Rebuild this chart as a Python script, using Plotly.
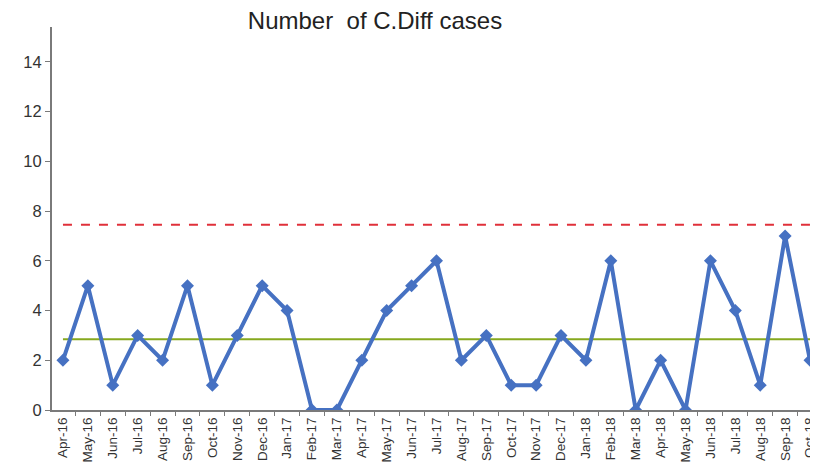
import plotly.graph_objects as go

months = ["Apr-16","May-16","Jun-16","Jul-16","Aug-16","Sep-16","Oct-16","Nov-16","Dec-16",
          "Jan-17","Feb-17","Mar-17","Apr-17","May-17","Jun-17","Jul-17","Aug-17","Sep-17",
          "Oct-17","Nov-17","Dec-17","Jan-18","Feb-18","Mar-18","Apr-18","May-18","Jun-18",
          "Jul-18","Aug-18","Sep-18","Oct-18"]
cases = [2,5,1,3,2,5,1,3,5,4,0,0,2,4,5,6,2,3,1,1,3,2,6,0,2,0,6,4,1,7,2]
mean_value = 2.84
ucl_value = 7.45
y_ticks = [0, 2, 4, 6, 8, 10, 12, 14]

fig = go.Figure()
fig.add_trace(go.Scatter(x=months, y=[ucl_value]*len(months), mode="lines",
                         line=dict(color="#e0303a", width=2, dash="dash"), hoverinfo="skip"))
fig.add_trace(go.Scatter(x=months, y=[mean_value]*len(months), mode="lines",
                         line=dict(color="#86a81e", width=2), hoverinfo="skip"))
fig.add_trace(go.Scatter(x=months, y=cases, mode="lines+markers",
                         line=dict(color="#4671c2", width=4),
                         marker=dict(symbol="diamond", size=10, color="#4671c2")))

# page body has an 8px default margin, so the figure is offset by 8px
W, H = 810, 463
fig.update_layout(
    width=W, height=H,
    margin=dict(l=44, r=0, t=19, b=61),
    paper_bgcolor="white", plot_bgcolor="white",
    showlegend=False,
    font=dict(family="Liberation Sans, Arial, sans-serif", color="#333333"),
    title=dict(text="Number  of C.Diff cases", x=367/W, xanchor="center",
               y=1 - 13/H, yanchor="middle", automargin=False,
               font=dict(size=24, color="#222222")),
)
fig.update_xaxes(type="category", range=[-0.44, 30.32], automargin=False,
                 showline=True, linecolor="#7a7a7a", linewidth=2,
                 ticks="outside", ticklen=4, tickcolor="#7a7a7a", tickson="boundaries",
                 tickangle=-90, tickfont=dict(size=13.5, color="#333333"), showgrid=False)
fig.update_yaxes(range=[0, 15.4], tickvals=y_ticks, automargin=False,
                 showline=True, linecolor="#7a7a7a", linewidth=2,
                 ticks="outside", ticklen=5, tickcolor="#7a7a7a", showgrid=False, zeroline=False,
                 tickfont=dict(size=16.5, color="#333333"))

fig.write_html("out.html")
